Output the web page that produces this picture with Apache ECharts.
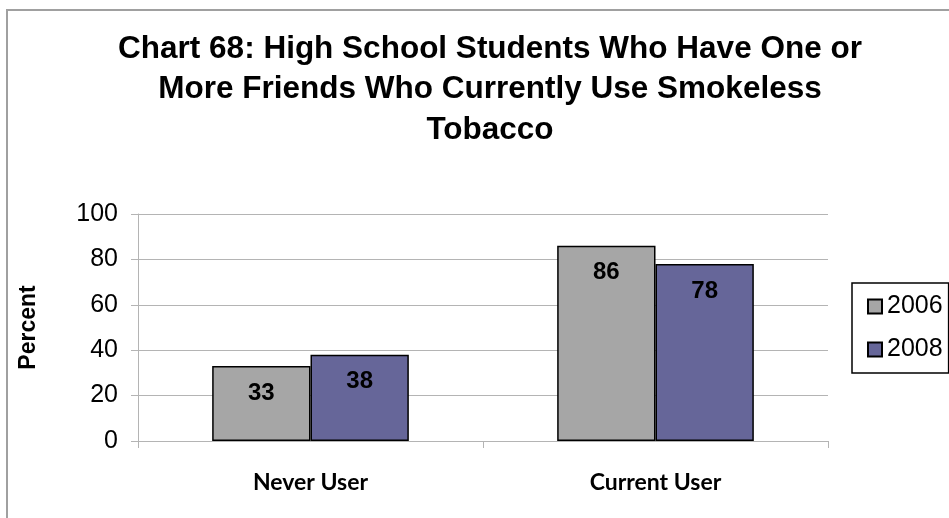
<!DOCTYPE html>
<html>
<head>
<meta charset="utf-8">
<script src="https://cdn.jsdelivr.net/npm/echarts@6/dist/echarts.min.js"></script>
<style>
  html, body { margin: 0; padding: 0; background: #fff; }
  #chart { width: 949px; height: 518px; }
</style>
</head>
<body>
<div id="chart"></div>
<script>
// Friends' smokeless tobacco use, by student user status and survey year
const categories = ['Never User', 'Current User'];
const values2006 = [33, 86];
const values2008 = [38, 78];
const seriesNames = ['2006', '2008'];
const yTicks = { min: 0, max: 100, interval: 20 };

const chart = echarts.init(document.getElementById('chart'), null, { renderer: 'canvas' });
const baseFont = 'Liberation Sans, Arial, sans-serif';
const gridGray = '#b4b4b4';

const barLabel = {
  show: true,
  position: 'insideTop',
  distance: 15,
  color: '#000',
  fontFamily: baseFont,
  fontWeight: 'bold',
  fontSize: 24
};

chart.setOption({
  animation: false,
  backgroundColor: '#fff',
  title: {
    text: 'Chart 68: High School Students Who Have One or\nMore Friends Who Currently Use Smokeless\nTobacco',
    left: 485,
    top: 24,
    textAlign: 'center',
    textStyle: {
      fontFamily: baseFont,
      fontWeight: 'bold',
      fontSize: 31.5,
      lineHeight: 40.5,
      color: '#000'
    }
  },
  graphic: [{
    type: 'rect',
    shape: { x: 7, y: 10, width: 960, height: 600 },
    style: { fill: null, stroke: '#a0a0a0', lineWidth: 2 },
    silent: true
  }],
  legend: {
    orient: 'vertical',
    left: 852,
    top: 283,
    padding: [11, 6, 11, 15],
    itemWidth: 14,
    itemHeight: 14,
    itemGap: 18,
    icon: 'rect',
    borderColor: '#000',
    borderWidth: 1.5,
    textStyle: { fontFamily: baseFont, fontSize: 25, color: '#000' },
    data: seriesNames
  },
  grid: { left: 138, right: 121, top: 214, bottom: 77, containLabel: false },
  xAxis: {
    type: 'category',
    data: categories,
    axisLine: { lineStyle: { color: gridGray, width: 1 } },
    axisTick: { show: true, length: 7, lineStyle: { color: gridGray } },
    axisLabel: {
      margin: 30,
      color: '#000',
      fontFamily: 'Lato, sans-serif',
      fontWeight: 'bold',
      fontSize: 23
    }
  },
  yAxis: {
    type: 'value',
    min: yTicks.min,
    max: yTicks.max,
    interval: yTicks.interval,
    name: 'Percent',
    nameLocation: 'middle',
    nameRotate: 90,
    nameGap: 98,
    nameTextStyle: { fontFamily: baseFont, fontWeight: 'bold', fontSize: 23, color: '#000' },
    axisLine: { show: true, lineStyle: { color: gridGray, width: 1 } },
    axisTick: { show: true, length: 7, lineStyle: { color: gridGray } },
    axisLabel: { margin: 20, color: '#000', fontFamily: baseFont, fontSize: 25 },
    splitLine: { lineStyle: { color: gridGray, width: 1 } }
  },
  series: [
    {
      name: seriesNames[0],
      type: 'bar',
      data: values2006,
      barGap: '0%',
      barCategoryGap: '43%',
      itemStyle: { color: '#a6a6a6', borderColor: '#000', borderWidth: 1.5 },
      label: barLabel
    },
    {
      name: seriesNames[1],
      type: 'bar',
      data: values2008,
      barGap: '0%',
      barCategoryGap: '43%',
      itemStyle: { color: '#666699', borderColor: '#000', borderWidth: 1.5 },
      label: barLabel
    }
  ]
});
</script>
</body>
</html>
